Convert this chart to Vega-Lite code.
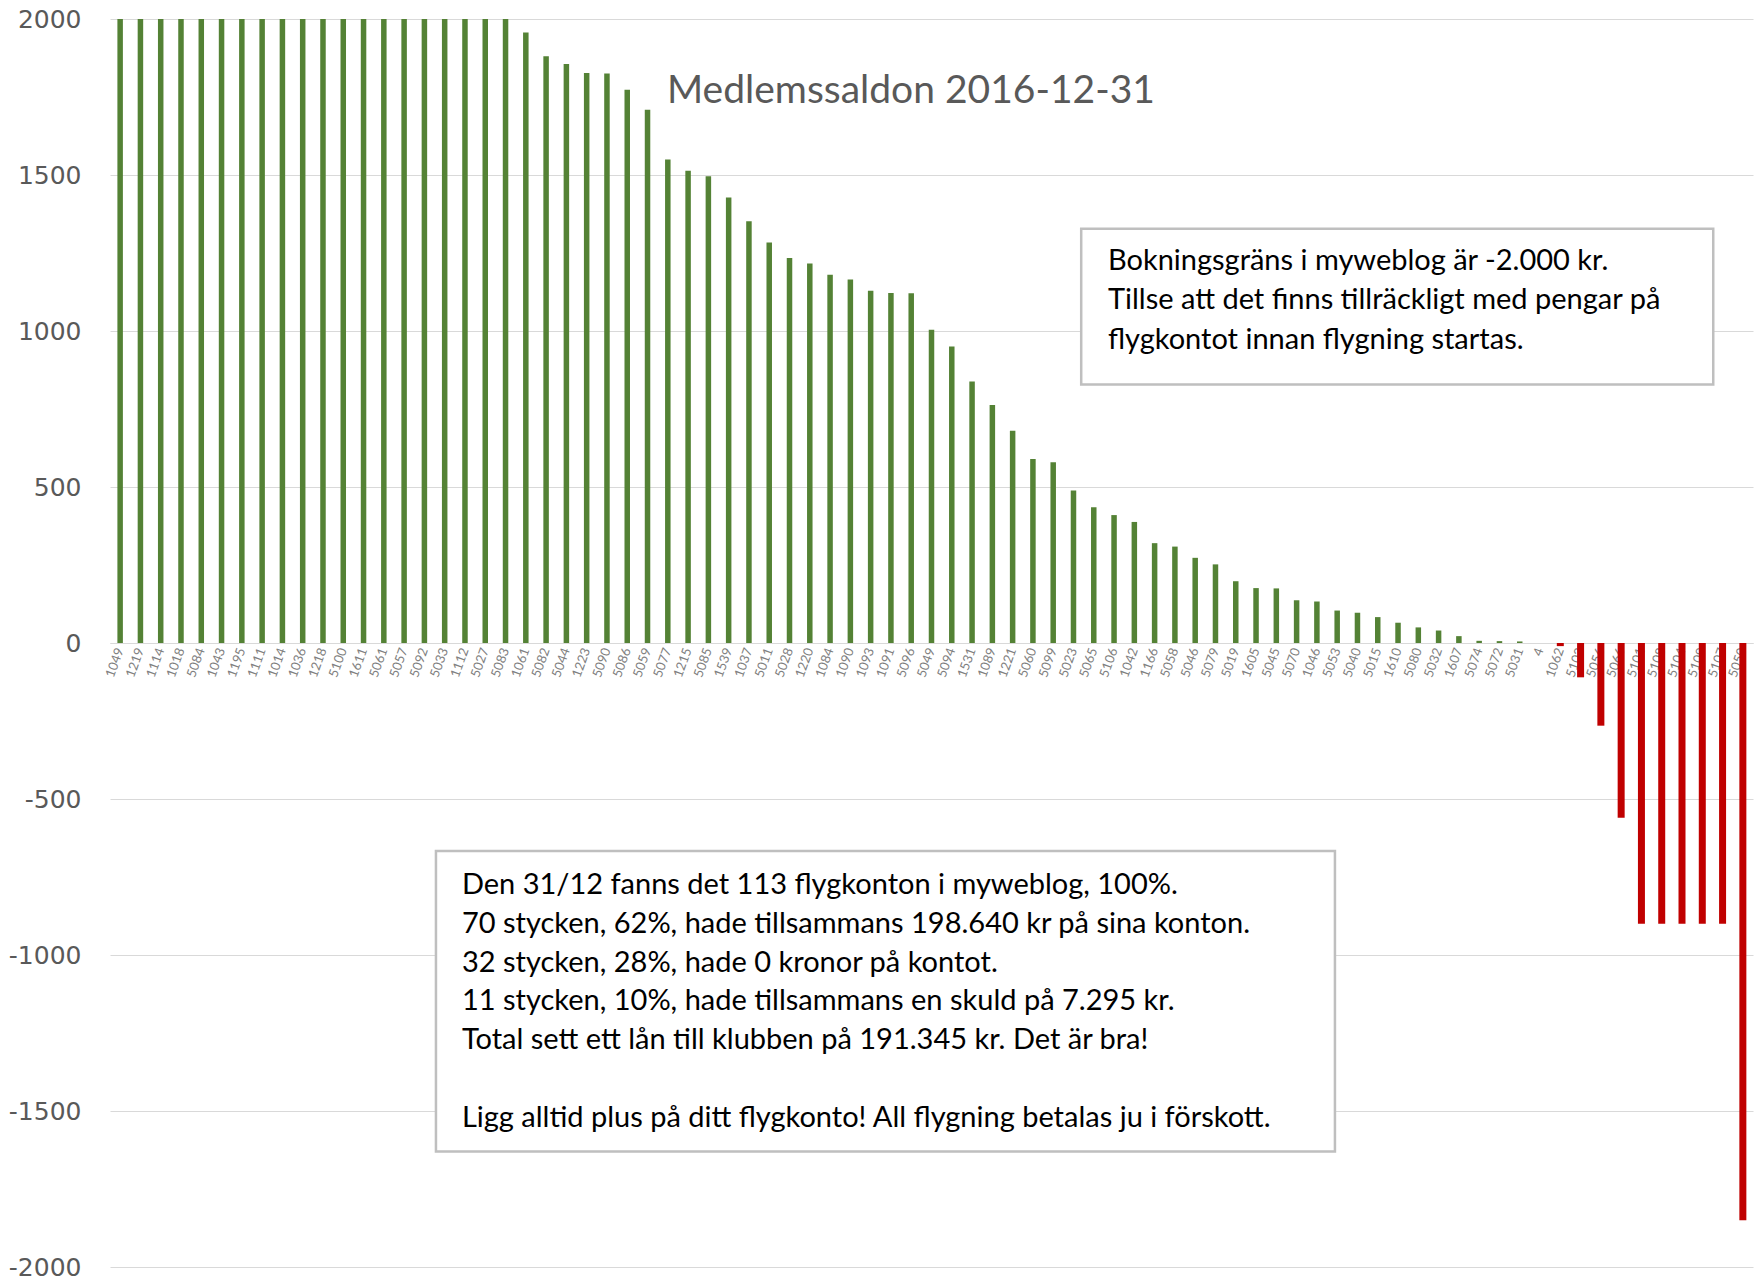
{
  "$schema": "https://vega.github.io/schema/vega-lite/v6.json",
  "width": 1643,
  "height": 1248,
  "autosize": "none",
  "padding": {"left": 110, "top": 19, "right": 5, "bottom": 15},
  "background": "white",
  "config": {"view": {"stroke": null}},
  "data": {
    "values": [
      {"konto": "1049", "saldo": 2000}, {"konto": "1219", "saldo": 2000}, {"konto": "1114", "saldo": 2000},
      {"konto": "1018", "saldo": 2000}, {"konto": "5084", "saldo": 2000}, {"konto": "1043", "saldo": 2000},
      {"konto": "1195", "saldo": 2000}, {"konto": "1111", "saldo": 2000}, {"konto": "1014", "saldo": 2000},
      {"konto": "1036", "saldo": 2000}, {"konto": "1218", "saldo": 2000}, {"konto": "5100", "saldo": 2000},
      {"konto": "1611", "saldo": 2000}, {"konto": "5061", "saldo": 2000}, {"konto": "5057", "saldo": 2000},
      {"konto": "5092", "saldo": 2000}, {"konto": "5033", "saldo": 2000}, {"konto": "1112", "saldo": 2000},
      {"konto": "5027", "saldo": 2000}, {"konto": "5083", "saldo": 2000},
      {"konto": "1061", "saldo": 1957}, {"konto": "5082", "saldo": 1881}, {"konto": "5044", "saldo": 1856},
      {"konto": "1223", "saldo": 1827}, {"konto": "5090", "saldo": 1825}, {"konto": "5086", "saldo": 1773},
      {"konto": "5059", "saldo": 1709}, {"konto": "5077", "saldo": 1550}, {"konto": "1215", "saldo": 1514},
      {"konto": "5085", "saldo": 1496}, {"konto": "1539", "saldo": 1428}, {"konto": "1037", "saldo": 1352},
      {"konto": "5011", "saldo": 1284}, {"konto": "5028", "saldo": 1234}, {"konto": "1220", "saldo": 1216},
      {"konto": "1084", "saldo": 1180}, {"konto": "1090", "saldo": 1165}, {"konto": "1093", "saldo": 1129},
      {"konto": "1091", "saldo": 1122}, {"konto": "5096", "saldo": 1121}, {"konto": "5049", "saldo": 1004},
      {"konto": "5094", "saldo": 950}, {"konto": "1531", "saldo": 838}, {"konto": "1089", "saldo": 763},
      {"konto": "1221", "saldo": 680}, {"konto": "5060", "saldo": 590}, {"konto": "5099", "saldo": 579},
      {"konto": "5023", "saldo": 489}, {"konto": "5065", "saldo": 435}, {"konto": "5106", "saldo": 410},
      {"konto": "1042", "saldo": 388}, {"konto": "1166", "saldo": 320}, {"konto": "5058", "saldo": 309},
      {"konto": "5046", "saldo": 273}, {"konto": "5079", "saldo": 252}, {"konto": "5019", "saldo": 198},
      {"konto": "1605", "saldo": 176}, {"konto": "5045", "saldo": 175}, {"konto": "5070", "saldo": 137},
      {"konto": "1046", "saldo": 133}, {"konto": "5053", "saldo": 104}, {"konto": "5040", "saldo": 97},
      {"konto": "5015", "saldo": 83}, {"konto": "1610", "saldo": 65}, {"konto": "5080", "saldo": 50},
      {"konto": "5032", "saldo": 40}, {"konto": "1607", "saldo": 22}, {"konto": "5074", "saldo": 7},
      {"konto": "5072", "saldo": 6}, {"konto": "5031", "saldo": 5}, {"konto": "4", "saldo": 0},
      {"konto": "1062", "saldo": -10}, {"konto": "5103", "saldo": -110}, {"konto": "5056", "saldo": -265},
      {"konto": "5066", "saldo": -560}, {"konto": "5101", "saldo": -900}, {"konto": "5108", "saldo": -900},
      {"konto": "5104", "saldo": -900}, {"konto": "5109", "saldo": -900}, {"konto": "5107", "saldo": -900},
      {"konto": "5050", "saldo": -1850}
    ]
  },
  "layer": [
    {
      "mark": {"type": "bar", "clip": true},
      "encoding": {
        "x": {
          "field": "konto", "type": "nominal", "sort": null,
          "scale": {"paddingInner": 0, "paddingOuter": 0},
          "axis": {
            "title": null, "offset": -624, "labelAngle": -70, "labelFontSize": 13,
            "labelColor": "#808080", "labelFont": "Lato", "labelPadding": 5,
            "ticks": false, "domain": true, "domainColor": "#d9d9d9", "grid": false
          }
        },
        "y": {
          "field": "saldo", "type": "quantitative",
          "scale": {"domain": [-2000, 2000], "nice": false},
          "axis": {
            "title": null, "values": [-2000, -1500, -1000, -500, 0, 500, 1000, 1500, 2000],
            "labelExpr": "'' + datum.value",
            "labelFont": "DejaVu Sans", "labelFontSize": 25, "labelColor": "#595959",
            "ticks": false, "domain": false, "grid": true, "gridColor": "#d9d9d9", "labelPadding": 29
          }
        },
        "color": {"condition": {"test": "datum.saldo < 0", "value": "#C00000"}, "value": "#548235"},
        "size": {"condition": {"test": "datum.saldo < 0", "value": 7}, "value": 5.5}
      }
    },
    {
      "data": {"values": [{}]},
      "mark": {"type": "text", "align": "left", "baseline": "middle", "font": "Lato", "fontSize": 39, "color": "#595959"},
      "encoding": {
        "x": {"datum": 27.46, "type": "quantitative", "scale": {"domain": [0, 81], "nice": false, "zero": false}, "axis": null},
        "y": {"datum": 1770.8, "type": "quantitative"},
        "text": {"value": "Medlemssaldon 2016-12-31"}
      }
    },
    {
      "data": {"values": [{}]},
      "mark": {"type": "rect", "fill": "white", "stroke": "#bfbfbf", "strokeWidth": 2.5},
      "encoding": {
        "x": {"datum": 47.88, "type": "quantitative", "scale": {"domain": [0, 81], "nice": false, "zero": false}, "axis": null},
        "x2": {"datum": 79.04},
        "y": {"datum": 1327.9, "type": "quantitative"},
        "y2": {"datum": 828.2}
      }
    },
    {
      "data": {"values": [{}]},
      "mark": {"type": "text", "align": "left", "baseline": "middle", "font": "Lato", "fontSize": 29, "lineHeight": 39.5, "color": "#000000"},
      "encoding": {
        "x": {"datum": 49.2, "type": "quantitative", "scale": {"domain": [0, 81], "nice": false, "zero": false}, "axis": null},
        "y": {"datum": 1224.4, "type": "quantitative"},
        "text": {"value": ["Bokningsgräns i myweblog är -2.000 kr.", "Tillse att det finns tillräckligt med pengar på", "flygkontot innan flygning startas."]}
      }
    },
    {
      "data": {"values": [{}]},
      "mark": {"type": "rect", "fill": "white", "stroke": "#bfbfbf", "strokeWidth": 2.5},
      "encoding": {
        "x": {"datum": 16.07, "type": "quantitative", "scale": {"domain": [0, 81], "nice": false, "zero": false}, "axis": null},
        "x2": {"datum": 60.39},
        "y": {"datum": -666.7, "type": "quantitative"},
        "y2": {"datum": -1629.5}
      }
    },
    {
      "data": {"values": [{}]},
      "mark": {"type": "text", "align": "left", "baseline": "middle", "font": "Lato", "fontSize": 29, "lineHeight": 38.8, "color": "#000000"},
      "encoding": {
        "x": {"datum": 17.35, "type": "quantitative", "scale": {"domain": [0, 81], "nice": false, "zero": false}, "axis": null},
        "y": {"datum": -775.6, "type": "quantitative"},
        "text": {"value": ["Den 31/12 fanns det 113 flygkonton i myweblog, 100%.", "70 stycken, 62%, hade tillsammans 198.640 kr på sina konton.", "32 stycken, 28%, hade 0 kronor på kontot.", "11 stycken, 10%, hade tillsammans en skuld på 7.295 kr.", "Total sett ett lån till klubben på 191.345 kr. Det är bra!"]}
      }
    },
    {
      "data": {"values": [{}]},
      "mark": {"type": "text", "align": "left", "baseline": "middle", "font": "Lato", "fontSize": 29, "color": "#000000"},
      "encoding": {
        "x": {"datum": 17.35, "type": "quantitative", "scale": {"domain": [0, 81], "nice": false, "zero": false}, "axis": null},
        "y": {"datum": -1522.4, "type": "quantitative"},
        "text": {"value": "Ligg alltid plus på ditt flygkonto! All flygning betalas ju i förskott."}
      }
    }
  ],
  "resolve": {"scale": {"x": "independent"}}
}
